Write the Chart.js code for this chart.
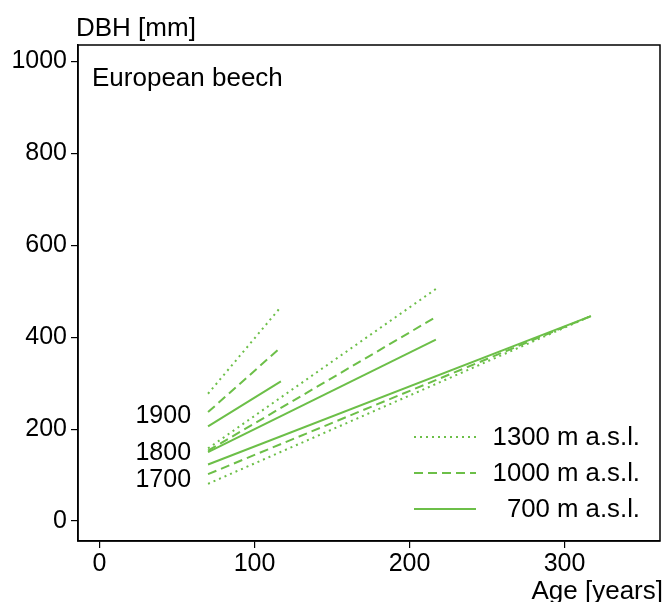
<!DOCTYPE html>
<html>
<head>
<meta charset="utf-8">
<script src="https://cdn.jsdelivr.net/npm/chart.js@4.4.1/dist/chart.umd.min.js"></script>
<style>
  html, body { margin: 0; padding: 0; background: #ffffff; }
  #wrap { width: 665px; height: 602px; position: relative; }
</style>
</head>
<body>
<div id="wrap"><canvas id="c" width="665" height="602"></canvas></div>
<script>
// ---- Data ----
const cohorts = ['1900', '1800', '1700'];
const startAge = 70;
const endAges = [117, 217, 317];
const dbh1300Start = [277, 158, 81];
const dbh1300End   = [466, 505, 446];
const dbh1000Start = [237, 153, 102];
const dbh1000End   = [378, 444, 446];
const dbh700Start  = [206, 150, 123];
const dbh700End    = [304, 395, 446];
const elevations = ['1300 m a.s.l.', '1000 m a.s.l.', '700 m a.s.l.'];
const xTicks = [0, 100, 200, 300];
const yTicks = [0, 200, 400, 600, 800, 1000];

const GREEN = '#6cbf48';
const FONT = '"Liberation Sans", Arial, Helvetica, sans-serif';
const FS = 25;
const dashes = [[2, 4], [9, 5], []];
const starts = [dbh1300Start, dbh1000Start, dbh700Start];
const ends = [dbh1300End, dbh1000End, dbh700End];

const datasets = [];
cohorts.forEach((c, ci) => {
  elevations.forEach((e, ei) => {
    datasets.push({
      label: c + ' ' + e,
      data: [{x: startAge, y: starts[ei][ci]}, {x: endAges[ci], y: ends[ei][ci]}],
      borderColor: GREEN,
      borderWidth: 2,
      borderDash: dashes[ei],
      pointRadius: 0,
      fill: false,
      tension: 0
    });
  });
});

function stretchText(ctx, txt, x, y, align, sx) {
  ctx.save();
  ctx.translate(x, y);
  ctx.scale(sx, 1);
  ctx.textAlign = align;
  ctx.fillText(txt, 0, 0);
  ctx.restore();
}

const annot = {
  id: 'annot',
  afterDraw(chart) {
    const ctx = chart.ctx;
    const a = chart.chartArea;
    ctx.save();
    // frame
    ctx.strokeStyle = '#000';
    ctx.lineWidth = 1.5;
    ctx.strokeRect(a.left, a.top, a.right - a.left, a.bottom - a.top);
    ctx.fillStyle = '#000';
    ctx.font = FS + 'px ' + FONT;
    ctx.textBaseline = 'alphabetic';
    stretchText(ctx, 'DBH [mm]', 76, 36, 'left', 1.04);
    stretchText(ctx, 'European beech', 92, 86, 'left', 1.04);
    stretchText(ctx, 'Age [years]', 663, 599, 'right', 1.04);
    // cohort labels
    const xs = chart.scales.x;
    const lx = xs.getPixelForValue(startAge) - 17;
    const labelY = [416, 453, 480];
    ctx.textBaseline = 'middle';
    cohorts.forEach((c, i) => stretchText(ctx, c, lx, labelY[i], 'right', 1.0));
    // legend
    const legY = [437, 473, 509];
    elevations.forEach((e, i) => {
      ctx.beginPath();
      ctx.strokeStyle = GREEN;
      ctx.lineWidth = 2;
      ctx.setLineDash(dashes[i]);
      ctx.moveTo(414, legY[i]);
      ctx.lineTo(476, legY[i]);
      ctx.stroke();
      ctx.setLineDash([]);
      ctx.fillStyle = '#000';
      stretchText(ctx, e, 640, legY[i] + 1, 'right', 1.03);
    });
    ctx.restore();
  }
};

new Chart(document.getElementById('c'), {
  type: 'line',
  data: { datasets },
  options: {
    responsive: false,
    animation: false,
    devicePixelRatio: 1,
    layout: { padding: { left: 0, right: 5, top: 45, bottom: 0 } },
    plugins: { legend: { display: false }, tooltip: { enabled: false } },
    scales: {
      x: {
        type: 'linear',
        min: -13.9, max: 361.6,
        afterBuildTicks(s) { s.ticks = xTicks.map(v => ({ value: v })); },
        afterFit(s) { s.height = 61; },
        grid: { drawOnChartArea: false, drawTicks: true, tickLength: 7, color: '#000', lineWidth: 1.2 },
        border: { display: true, color: '#000', width: 1.5 },
        ticks: { color: '#000', font: { family: FONT, size: FS }, padding: 1, maxRotation: 0,
                 callback: v => String(v) }
      },
      y: {
        type: 'linear',
        min: -43.5, max: 1036,
        afterBuildTicks(s) { s.ticks = yTicks.map(v => ({ value: v })); },
        afterFit(s) { s.width = 78; },
        grid: { drawOnChartArea: false, drawTicks: true, tickLength: 7, color: '#000', lineWidth: 1.2 },
        border: { display: true, color: '#000', width: 1.5 },
        ticks: { color: '#000', font: { family: FONT, size: FS }, padding: 4,
                 callback: v => String(v) }
      }
    }
  },
  plugins: [annot]
});
</script>
</body>
</html>
